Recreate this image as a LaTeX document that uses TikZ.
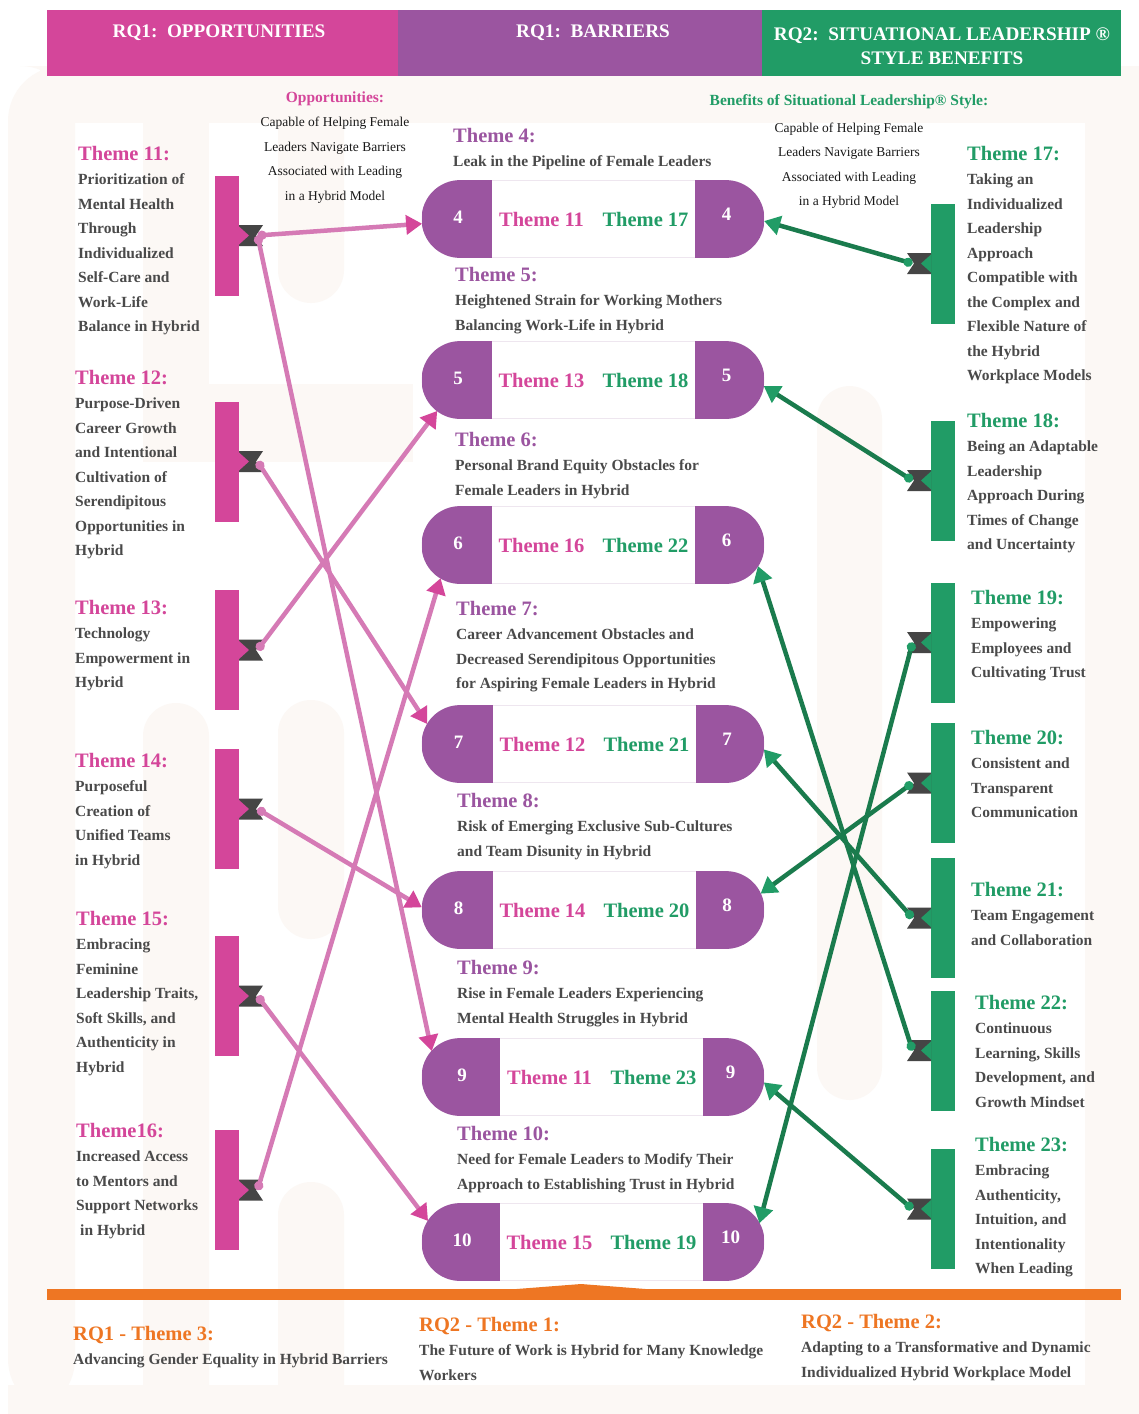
\documentclass[tikz,border=0pt]{standalone}
\usepackage{fontspec}
\setmainfont{Liberation Serif}
\usetikzlibrary{arrows.meta}
\definecolor{opp}{HTML}{D4469A}
\definecolor{barrier}{HTML}{9B55A0}
\definecolor{sit}{HTML}{219C66}
\definecolor{rqorange}{HTML}{EE7623}
\definecolor{opplinecol}{HTML}{D57AB5}
\definecolor{sitlinecol}{HTML}{1A7B4D}
\definecolor{knotgray}{HTML}{454545}
\definecolor{txtgray}{HTML}{4A4A4A}
\definecolor{cream}{HTML}{FCF8F5}
\definecolor{pillline}{HTML}{EEE6EF}
\newcommand{\oppttl}[1]{{\color{opp}\fontsize{20.5}{24.5}\selectfont #1}}
\newcommand{\barttl}[1]{{\color{barrier}\fontsize{20.5}{24.5}\selectfont #1}}
\newcommand{\sitttl}[1]{{\color{sit}\fontsize{20.5}{24.5}\selectfont #1}}
\newcommand{\rqttl}[1]{{\color{rqorange}\fontsize{20.5}{24.5}\selectfont #1}}

\begin{document}
\begin{tikzpicture}[x=1pt,y=-1pt]
        \tikzset{
          theme/.style={anchor=north west, align=left, inner sep=0pt, text=txtgray, font=\fontsize{15.5}{24.5}\selectfont\bfseries},
          note/.style={anchor=north, align=center, inner sep=0pt, text=black!90, font=\fontsize{13.5}{24.5}\selectfont},
          hdr/.style={anchor=base, inner sep=0pt, text=white, font=\fontsize{19.2}{24}\selectfont\bfseries},
          pill/.style={rectangle, minimum width=342pt, minimum height=77pt, inner sep=0pt, rounded corners=38.5pt, fill=white, draw=pillline, line width=0.8pt},
          pillcap/.style={circle, minimum size=77pt, inner sep=0pt},
          pillnum/.style={inner sep=0pt, text=white, font=\fontsize{19}{22}\selectfont\bfseries},
          pilltxt/.style={inner sep=0pt, font=\fontsize{20.5}{24.5}\selectfont\bfseries},
          oppbar/.style={rectangle, fill=opp, minimum width=24.5pt, minimum height=120pt, inner sep=0pt},
          sitbar/.style={rectangle, fill=sit, minimum width=24.5pt, minimum height=120pt, inner sep=0pt},
          opplink/.style={draw=opplinecol, line width=4.5pt, arrows={Circle[length=9pt]-Triangle[length=16pt, width=19pt, color=opp]}},
          sitlink/.style={draw=sitlinecol, line width=4.5pt, arrows={Circle[length=9pt, color=sit]-Triangle[length=16pt, width=19pt, color=sit]}}
        }
        \useasboundingbox (0,0) rectangle (1139,1414);
        \fill[white] (0,0) rectangle (1139,1414);

        % faint background letters
        \fill[cream, rounded corners=55pt] (8,66) rectangle (75,1414);
        \fill[cream] (40,66) rectangle (1139,123);
        \fill[cream] (1085,66) rectangle (1139,1414);
        \fill[cream] (143,66) rectangle (209,462);
        \fill[cream] (143,384) rectangle (413,462);
        \fill[cream, rounded corners=33pt] (278,90) rectangle (344,303);
        \fill[cream, rounded corners=33pt] (143,703) rectangle (209,1450);
        \fill[cream, rounded corners=33pt] (278,700) rectangle (344,939);
        \fill[cream, rounded corners=33pt] (278,1182) rectangle (344,1450);
        \fill[cream, rounded corners=33pt] (817,386) rectangle (882,1100);
        \fill[cream] (8,1385) rectangle (1139,1414);

        % column headers
        \fill[opp] (47,10) rectangle (398,75.5);
        \fill[barrier] (398,10) rectangle (762,75.5);
        \fill[sit] (762,10) rectangle (1121,75.5);
        \node[hdr] (h1) at (219,37.5) {RQ1:\ \ OPPORTUNITIES};
        \node[hdr] (h2) at (593,37.5) {RQ1:\ \ BARRIERS};
        \node[hdr, anchor=north, align=center] (h3) at (942,28) {RQ2:\ \ SITUATIONAL LEADERSHIP ®\\STYLE BENEFITS};

        \node[note] (oppnote) at (335,91.5) {{\color{opp}\bfseries\fontsize{15.5}{24.5}\selectfont Opportunities:}\\Capable of Helping Female\\Leaders Navigate Barriers\\Associated with Leading\\in a Hybrid Model};
        \node[note] (sitnote) at (849,94.5) {{\color{sit}\bfseries\fontsize{15.5}{24.5}\selectfont Benefits of Situational Leadership® Style:}\\[2pt]Capable of Helping Female\\Leaders Navigate Barriers\\Associated with Leading\\in a Hybrid Model};

        % opportunity themes
        \node[theme] (th11) at (78,146) {\oppttl{Theme 11:}\\Prioritization of\\Mental Health\\Through\\Individualized\\Self-Care and\\Work-Life\\Balance in Hybrid};
        \node[theme] (th12) at (75,370) {\oppttl{Theme 12:}\\Purpose-Driven\\Career Growth\\and Intentional\\Cultivation of\\Serendipitous\\Opportunities in\\Hybrid};
        \node[theme] (th13) at (75,600) {\oppttl{Theme 13:}\\Technology\\Empowerment in\\Hybrid};
        \node[theme] (th14) at (75,753) {\oppttl{Theme 14:}\\Purposeful\\Creation of\\Unified Teams\\in Hybrid};
        \node[theme] (th15) at (76,911) {\oppttl{Theme 15:}\\Embracing\\Feminine\\Leadership Traits,\\Soft Skills, and\\Authenticity in\\Hybrid};
        \node[theme] (th16) at (76,1123) {\oppttl{Theme16:}\\Increased Access\\to Mentors and\\Support Networks\\\hspace{4pt}in Hybrid};

        % situational leadership themes
        \node[theme] (th17) at (967,146) {\sitttl{Theme 17:}\\Taking an\\Individualized\\Leadership\\Approach\\Compatible with\\the Complex and\\Flexible Nature of\\the Hybrid\\Workplace Models};
        \node[theme] (th18) at (967,413) {\sitttl{Theme 18:}\\Being an Adaptable\\Leadership\\Approach During\\Times of Change\\and Uncertainty};
        \node[theme] (th19) at (971,590) {\sitttl{Theme 19:}\\Empowering\\Employees and\\Cultivating Trust};
        \node[theme] (th20) at (971,730) {\sitttl{Theme 20:}\\Consistent and\\Transparent\\Communication};
        \node[theme] (th21) at (971,882) {\sitttl{Theme 21:}\\Team Engagement\\and Collaboration};
        \node[theme] (th22) at (975,995) {\sitttl{Theme 22:}\\Continuous\\Learning, Skills\\Development, and\\Growth Mindset};
        \node[theme] (th23) at (975,1137) {\sitttl{Theme 23:}\\Embracing\\Authenticity,\\Intuition, and\\Intentionality\\When Leading};

        % barrier themes
        \node[theme] (bt4) at (453,128) {\barttl{Theme 4:}\\Leak in the Pipeline of Female Leaders};
        \node[theme] (bt5) at (455,267) {\barttl{Theme 5:}\\Heightened Strain for Working Mothers\\Balancing Work-Life in Hybrid};
        \node[theme] (bt6) at (455,432) {\barttl{Theme 6:}\\Personal Brand Equity Obstacles for\\Female Leaders in Hybrid};
        \node[theme] (bt7) at (456,601) {\barttl{Theme 7:}\\Career Advancement Obstacles and\\Decreased Serendipitous Opportunities\\for Aspiring Female Leaders in Hybrid};
        \node[theme] (bt8) at (457,793) {\barttl{Theme 8:}\\Risk of Emerging Exclusive Sub-Cultures\\and Team Disunity in Hybrid};
        \node[theme] (bt9) at (457,960) {\barttl{Theme 9:}\\Rise in Female Leaders Experiencing\\Mental Health Struggles in Hybrid};
        \node[theme] (bt10) at (457,1126) {\barttl{Theme 10:}\\Need for Female Leaders to Modify Their\\Approach to Establishing Trust in Hybrid};

        % barrier pills
        \foreach \n/\y/\a/\b/\o/\s in {4/219/492/695/11/17, 5/380/492/695/13/18, 6/545/492/695/16/22, 7/744/493/696/12/21, 8/910/493/696/14/20, 9/1077/500/703/11/23, 10/1242/500/703/15/19}
        {
          \node[pill] (p\n) at (593,\y) {};
          \begin{scope}
            \clip[rounded corners=38.5pt] (p\n.south west) rectangle (p\n.north east);
            \fill[barrier] (p\n.south west) rectangle (\a,\y-39);
            \fill[barrier] (\b,\y-39) rectangle (p\n.south east);
          \end{scope}
          \node[pillcap] (l\n) at (460.5,\y) {};
          \node[pillcap] (r\n) at (725.5,\y) {};
          \node[pillnum] (nl\n) at ({(422+\a)/2+1},\y-2) {\n};
          \node[pillnum] (nr\n) at ({(\b+764)/2-3},\y-5) {\n};
          \node[pilltxt, text=opp] (po\n) at ({(\a+\b)/2-52},\y) {Theme \o};
          \node[pilltxt, text=sit] (ps\n) at ({(\a+\b)/2+52},\y) {Theme \s};
        }

        % bars with knots
        \foreach \n/\y in {11/235.5, 12/461.5, 13/650, 14/809, 15/996, 16/1190}
        {
          \node[oppbar] (bar\n) at (227,\y) {};
          \fill[knotgray] (239,\y-10.5) -- (263,\y-10.5) -- (256,\y) -- (263,\y+10.5) -- (239,\y+10.5) -- cycle;
          \fill[opp] (239,\y-9) -- (249,\y) -- (239,\y+9) -- cycle;
          \coordinate (k\n) at (257.5,\y);
        }
        \foreach \n/\y in {17/263.5, 18/480.5, 19/642.5, 20/783, 21/918, 22/1050.5, 23/1209}
        {
          \node[sitbar] (bar\n) at (943,\y) {};
          \fill[knotgray] (931,\y-10.5) -- (907,\y-10.5) -- (914,\y) -- (907,\y+10.5) -- (931,\y+10.5) -- cycle;
          \fill[sit] (931,\y-9) -- (921,\y) -- (931,\y+9) -- cycle;
          \coordinate (k\n) at (912.5,\y);
        }

        % links
        \draw[opplink] (k11) -- (l4.187);
        \draw[opplink] (k11) -- (l9.138);
        \draw[opplink] (k12) -- (l7.149);
        \draw[opplink] (k13) -- (l5.233);
        \draw[opplink] (k14) -- (l8.176);
        \draw[opplink] (k15) -- (l10.147);
        \draw[opplink] (k16) -- (l6.239);
        \draw[sitlink] (k17) -- (r4.357);
        \draw[sitlink] (k18) -- (r5.351);
        \draw[sitlink] (k19) -- (r10.29);
        \draw[sitlink] (k20) -- (r8.25);
        \draw[sitlink] (k21) -- (r7.352);
        \draw[sitlink] (k22) -- (r6.327);
        \draw[sitlink] (k23) -- (r9.352);

        % bottom themes
        \fill[rqorange] (47,1289) rectangle (1121,1299.5);
        \fill[rqorange] (510,1289.5) -- (581,1284) -- (652,1289.5) -- cycle;
        \node[theme] (rq3) at (73,1326) {\rqttl{RQ1 - Theme 3:}\\Advancing Gender Equality in Hybrid Barriers};
        \node[theme] (rq1) at (419,1317) {\rqttl{RQ2 - Theme 1:}\\The Future of Work is Hybrid for Many Knowledge\\Workers};
        \node[theme] (rq2) at (801,1314) {\rqttl{RQ2 - Theme 2:}\\Adapting to a Transformative and Dynamic\\Individualized Hybrid Workplace Model};
\end{tikzpicture}
\end{document}
